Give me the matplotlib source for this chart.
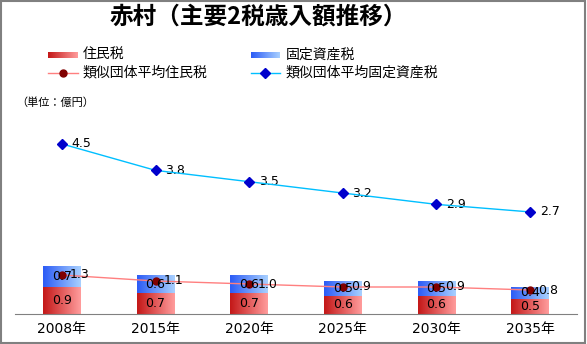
import numpy as np
import matplotlib.pyplot as plt
from matplotlib.colors import LinearSegmentedColormap
from matplotlib.patches import Rectangle

plt.rcParams['font.family'] = ['DejaVu Sans', 'Noto Sans CJK JP']
cjk = ['Noto Sans CJK JP', 'DejaVu Sans']

# data
years = ["2008年", "2015年", "2020年", "2025年", "2030年", "2035年"]
juminzei = [0.9, 0.7, 0.7, 0.6, 0.6, 0.5]
koteishisanzei = [0.7, 0.6, 0.6, 0.5, 0.5, 0.4]
ruiji_jumin = [1.3, 1.1, 1.0, 0.9, 0.9, 0.8]
ruiji_kotei = [4.5, 3.8, 3.5, 3.2, 2.9, 2.7]

red_cmap = LinearSegmentedColormap.from_list("red", ["#c41818", "#ff9c9c"])
blue_cmap = LinearSegmentedColormap.from_list("blue", ["#2c5cf6", "#a8d0ff"])
grad = np.linspace(0, 1, 64).reshape(1, -1)

W, H = 587, 344
fig = plt.figure(figsize=(W / 100, H / 100), dpi=100)

# main plot area (pixel positions from reference)
left, right, bottom, top = 15, 577, 314, 110
ax = fig.add_axes([left / W, 1 - bottom / H, (right - left) / W, (bottom - top) / H])
ax2 = ax.twinx()

x = np.arange(len(years))
bw = 0.405


def grad_bar(axis, xc, y0, y1, cmap):
    axis.imshow(grad, cmap=cmap, extent=[xc - bw / 2, xc + bw / 2, y0, y1],
                aspect='auto', interpolation='bicubic', zorder=2)


for i in range(len(years)):
    grad_bar(ax, x[i], 0, juminzei[i], red_cmap)
    grad_bar(ax, x[i], juminzei[i], juminzei[i] + koteishisanzei[i], blue_cmap)
    ax.text(x[i], juminzei[i] / 2, f"{juminzei[i]:.1f}", ha='center', va='center',
            fontsize=9, zorder=5)
    ax.text(x[i], juminzei[i] + koteishisanzei[i] / 2, f"{koteishisanzei[i]:.1f}",
            ha='center', va='center', fontsize=9, zorder=5)

ax.plot(x, ruiji_jumin, color="#ff7f7f", lw=1, marker='o', ms=5,
        mfc="#800000", mec="#800000", zorder=4)
for i in range(len(years)):
    ax.annotate(f"{ruiji_jumin[i]:.1f}", (x[i], ruiji_jumin[i]), xytext=(6, 0),
                textcoords='offset points', ha='left', va='center', fontsize=9, zorder=6)

ax2.plot(x, ruiji_kotei, color="#00bfff", lw=1, marker='D', ms=5,
         mfc="#0000cc", mec="#0000cc", zorder=4)
for i in range(len(years)):
    ax2.annotate(f"{ruiji_kotei[i]:.1f}", (x[i], ruiji_kotei[i]), xytext=(7, 0),
                 textcoords='offset points', ha='left', va='center', fontsize=9)

ax.set_xlim(-0.5, len(years) - 0.5)
ax.set_ylim(0, (bottom - top) / 30.0)
ax2.set_ylim(0, (bottom - top) / 37.8)
ax.set_xticks(x)
ax.set_xticklabels(years, fontsize=10)
ax.tick_params(axis='x', length=0, pad=6)
ax.set_yticks([])
ax2.set_yticks([])
for a in (ax, ax2):
    for s in ('left', 'right', 'top'):
        a.spines[s].set_visible(False)
    a.spines['bottom'].set_color("#808080")
ax2.spines['bottom'].set_visible(False)

# overlay for title, legend, unit label and frame
ov = fig.add_axes([0, 0, 1, 1], zorder=10)
ov.axis('off')

ov.text(258, 17, "赤村（主要2税歳入額推移）", ha='center', va='center',
        fontsize=17, fontweight='bold', family=cjk)

ov.imshow(grad, cmap=red_cmap, extent=[48, 78, 58, 52], aspect='auto')
ov.imshow(grad, cmap=blue_cmap, extent=[251, 280, 58, 52], aspect='auto')
ov.plot([48, 78], [73, 73], color="#ff7f7f", lw=1)
ov.plot([63], [73], marker='o', ms=5, color="#800000")
ov.plot([251, 280], [73, 73], color="#00bfff", lw=1)
ov.plot([265], [73], marker='D', ms=5, color="#0000cc")
ov.text(83, 55, "住民税", va='center', fontsize=10, family=cjk)
ov.text(286, 55, "固定資産税", va='center', fontsize=10, family=cjk)
ov.text(83, 73, "類似団体平均住民税", va='center', fontsize=10, family=cjk)
ov.text(286, 73, "類似団体平均固定資産税", va='center', fontsize=10, family=cjk)
ov.text(16, 103, "（単位：億円）", va='center', fontsize=8, family=cjk)
ov.set_xlim(0, W)
ov.set_ylim(H, 0)

fig.add_artist(Rectangle((0.001, 0.002), 0.996, 0.996, transform=fig.transFigure,
                         fill=False, edgecolor="#808080", lw=1.5))

fig.savefig("out.png", dpi=100)
